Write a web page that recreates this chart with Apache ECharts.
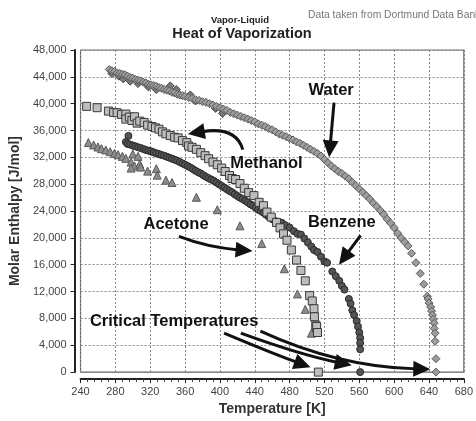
<!DOCTYPE html>
<html><head><meta charset="utf-8">
<script src="https://cdn.jsdelivr.net/npm/echarts@6/dist/echarts.min.js"></script>
<style>html,body{margin:0;padding:0;background:#fff}#c{width:476px;height:421px}</style>
</head><body><div id="c"></div>
<script>
const FONT = "'Liberation Sans', Arial, Helvetica, sans-serif";

// tick labels
const xTicks = [240, 280, 320, 360, 400, 440, 480, 520, 560, 600, 640, 680];
const yTicks = [0, 4000, 8000, 12000, 16000, 20000, 24000, 28000, 32000, 36000, 40000, 44000, 48000];

// series: [Temperature K, Molar enthalpy J/mol]
const water = [
 [273,45100],[276,44900],[279,44800],[282,44600],[285,44500],[288,44400],[291,44300],[294,44100],[297,43900],[300,43800],
 [303,43600],[306,43500],[309,43400],[312,43200],[315,43100],[318,42900],[321,42800],[324,42700],[327,42600],[330,42400],
 [333,42300],[336,42100],[339,42000],[342,41900],[345,41700],[348,41600],[351,41400],[354,41300],[357,41200],[360,41100],
 [364,40900],[368,40800],[372,40600],[376,40500],[380,40300],[384,40200],[388,40000],[392,39800],[396,39600],[400,39400],
 [404,39200],[408,39000],[412,38700],[416,38500],[420,38300],[424,38100],[428,37900],[432,37700],[436,37500],[440,37300],
 [444,37000],[448,36800],[452,36600],[456,36300],[460,36100],[464,35800],[468,35500],[472,35300],[476,35100],[480,34800],
 [484,34600],[488,34300],[492,34100],[496,33800],[500,33500],[504,33200],[508,32900],[512,32600],[516,32200],[520,31700],
 [524,31200],[528,30700],[532,30300],[536,29900],[540,29600],[544,29200],[548,28800],[552,28300],[556,27800],[560,27300],
 [564,26800],[568,26300],[572,25800],[576,25200],[580,24700],[584,24100],[588,23500],[592,22800],[596,22200],[600,21500],
 [604,20700],[608,20000],[612,19400],[616,18800],[620,17700],[625,16300],[630,14700],[634,13100],[638,11300],[639,10900],
 [640,10300],[642,9700],[643,9100],[644,8500],[645,7900],[646,7300],[646,6500],[647,5800],[647,4600],[648,2000],[648,0]
];
const waterExtra = [
 [276,44500],[284,44100],[289,43700],[297,43350],[306,43000],[318,42500],[327,42100],[343,42650],[350,42100],
 [366,41300],[372,40400],[395,39300],[403,38550]
];
const methanol = [
 [247,39600],[259,39400],[272,38900],[278,38700],[282,38650],[287,38400],[292,38450],[292,37700],[296,38000],[299,37500],
 [302,38050],[305,37100],[308,37400],[313,37200],[317,36800],[322,36600],[326,36400],[330,36200],[334,35800],[338,35500],
 [343,35250],[348,35000],[352,34900],[357,34500],[362,34200],[364,33700],[368,33500],[373,33200],[378,32700],[383,32250],
 [387,31800],[392,31300],[397,30900],[402,30400],[406,29900],[411,29300],[414,28850],[418,28700],[423,28100],[428,27400],
 [433,26750],[439,26300],[445,25300],[450,24800],[454,23850],[459,23100],[465,22300],[469,21500],[473,20600],[477,19650],
 [482,18200],[488,16700],[493,15150],[498,13600],[503,11400],[506,10600],[508,9450],[508.5,8250],[510,7000],[511,6800],
 [512,5900],[513,0]
];
const benzene = [
 [295,35200],[292,34300],[294,34000],[297,33900],[300,33750],[303,33650],[306,33500],[309,33400],[312,33250],[315,33100],
 [318,33000],[321,32900],[324,32750],[327,32600],[330,32500],[333,32350],[336,32250],[339,32100],[342,31950],[345,31800],
 [348,31650],[351,31500],[354,31300],[357,31100],[360,30900],[363,30700],[366,30500],[369,30250],[372,30000],[375,29800],
 [378,29600],[381,29350],[384,29100],[387,28900],[390,28700],[393,28500],[396,28250],[399,28000],[402,27750],[405,27500],
 [408,27250],[411,27000],[414,26800],[417,26500],[420,26250],[423,26000],[426,25800],[429,25550],[432,25300],[435,25000],
 [438,24800],[441,24500],[444,24200],[447,24000],[450,23750],[453,23450],[456,23150],[460,22800],[463,22550],[467,22400],
 [471,22250],[475,21900],[480,21550],[485,21000],[489,20600],[493,20500],[497,19900],[501,19300],[505,18700],[508,18200],
 [512,17900],[516,17200],[520,16500],[523,16300],[529,15000],[533,14300],[537,13600],[540,12850],[543,12300],[548,10900],
 [550,10200],[552,9200],[554,8500],[557,7600],[558.5,6800],[560,5900],[561,5100],[561,4350],[561,3400],[561,0]
];
const acetone = [
 [249,34200],[255,33850],[260,33550],[264,33300],[269,33100],[274,32850],[279,32600],[283,32400],[288,32150],[292,31850],
 [300,32500],[306,32150],[298,31300],[302,30700],[298,30400],[308,31000],[309,30550],[317,29950],[327,30300],[328,29350],
 [338,28600],[345,28250],[373,26050],[397,24200],[423,21800],[448,19150],[474,15400],[489,11650],[498,9350],[505,5800]
];

// annotations (data coordinates)
const noteTexts = [
 ['Water', 527.7, 42036],
 ['Methanol', 453.3, 31127],
 ['Acetone', 349.6, 21964],
 ['Benzene', 540, 22255],
 ['Critical Temperatures', 347.4, 7564]
];
const noteArrows = [
 [[531.0,40145],[525.4,32000]],
 [[426.3,33164],[418.4,36655],[363.2,35491]],
 [[353.0,20218],[384.6,18618],[437.5,18036]],
 [[561.5,20364],[536.7,16000]],
 [[404.8,5818],[458,2909],[504.1,727]],
 [[424,5818],[491.7,2618],[551.3,1018]],
 [[446.5,6109],[536.7,727],[641.5,436]]
];

const chart = echarts.init(document.getElementById('c'), null, {renderer:'canvas'});
const fmt = v => Number(v).toLocaleString('en-US');

function sc(name, data, symbol, size, fill, stroke, z) {
  return {name, type:'scatter', data, symbol, symbolSize:size, z,
    itemStyle:{color:fill, borderColor:stroke, borderWidth:1, opacity:1}};
}

chart.setOption({
  animation:false,
  backgroundColor:'#fff',
  textStyle:{fontFamily:FONT},
  grid:{left:77, right:8, top:50, bottom:41, show:true, borderColor:'#666', borderWidth:1.2, backgroundColor:'transparent'},
  xAxis:{type:'value', min:xTicks[0], max:xTicks[xTicks.length-1], interval:xTicks[1]-xTicks[0], offset:7,
    axisLine:{show:true, onZero:false, lineStyle:{color:'#222', width:2}},
    axisTick:{show:true, length:4, lineStyle:{color:'#222'}},
    minorTick:{show:true, splitNumber:5, length:3, lineStyle:{color:'#444'}},
    axisLabel:{fontSize:11, color:'#444', margin:7, fontFamily:FONT},
    splitLine:{show:true, lineStyle:{color:'#888', type:[2,2], width:1}},
    name:'Temperature [K]', nameLocation:'middle', nameGap:19,
    nameTextStyle:{fontSize:14, fontWeight:'bold', color:'#333', fontFamily:FONT}},
  yAxis:{type:'value', min:yTicks[0], max:yTicks[yTicks.length-1], interval:yTicks[1]-yTicks[0], offset:6,
    axisLine:{show:true, onZero:false, lineStyle:{color:'#222', width:2}},
    axisTick:{show:true, length:4, lineStyle:{color:'#222'}},
    axisLabel:{fontSize:11, color:'#444', margin:8, fontFamily:FONT, formatter:fmt},
    splitLine:{show:true, lineStyle:{color:'#888', type:[2,2], width:1}},
    name:'Molar Enthalpy [J/mol]', nameLocation:'middle', nameGap:45, nameRotate:90,
    nameTextStyle:{fontSize:14, fontWeight:'bold', color:'#333', fontFamily:FONT}},
  series:[
    sc('Benzene', benzene, 'circle', 7, '#555', '#2a2a2a', 2),
    sc('Acetone', acetone, 'triangle', 8, '#8c8c8c', '#5a5a5a', 3),
    sc('Methanol', methanol, 'rect', 8, '#bdbdbd', '#3a3a3a', 4),
    sc('WaterB', waterExtra, 'diamond', 8, '#7a7a7a', '#444', 5),
    sc('Water', water, 'diamond', 8, '#9d9d9d', '#5a5a5a', 6)
  ]
});

const els = [
  {type:'text', x:240, y:20, z:100, style:{text:'Vapor-Liquid', font:'bold 9.5px '+FONT, fill:'#222', align:'center', verticalAlign:'middle'}},
  {type:'text', x:242, y:34, z:100, style:{text:'Heat of Vaporization', font:'bold 14.5px '+FONT, fill:'#222', align:'center', verticalAlign:'middle'}},
  {type:'text', x:308, y:15, z:100, style:{text:'Data taken from Dortmund Data Bank', font:'10.3px '+FONT, fill:'#777', align:'left', verticalAlign:'middle'}}
];
noteTexts.forEach(([t, x, y]) => {
  const p = chart.convertToPixel({gridIndex:0}, [x, y]);
  els.push({type:'text', x:p[0], y:p[1], z:100, style:{text:t, font:'bold 16.5px '+FONT, fill:'#111', align:'center', verticalAlign:'middle'}});
});
noteArrows.forEach(pts => {
  const p = pts.map(d => chart.convertToPixel({gridIndex:0}, d));
  const P0 = p[0], P2 = p[p.length-1], P1 = p.length === 3 ? p[1] : null;
  const from = P1 || P0;
  const dx = P2[0]-from[0], dy = P2[1]-from[1], len = Math.hypot(dx, dy);
  const ux = dx/len, uy = dy/len, L = 17, W = 8;
  const base = [P2[0]-ux*L, P2[1]-uy*L];
  const sEnd = [P2[0]-ux*(L-3), P2[1]-uy*(L-3)];
  const style = {stroke:'#111', lineWidth:3, fill:'none'};
  if (P1) els.push({type:'bezierCurve', z:100, shape:{x1:P0[0], y1:P0[1], cpx1:P1[0], cpy1:P1[1], x2:sEnd[0], y2:sEnd[1]}, style});
  else els.push({type:'line', z:100, shape:{x1:P0[0], y1:P0[1], x2:sEnd[0], y2:sEnd[1]}, style});
  els.push({type:'polygon', z:101, shape:{points:[P2, [base[0]-uy*W, base[1]+ux*W], [base[0]+uy*W, base[1]-ux*W]]}, style:{fill:'#111'}});
});
chart.setOption({graphic:els});
</script></body></html>
